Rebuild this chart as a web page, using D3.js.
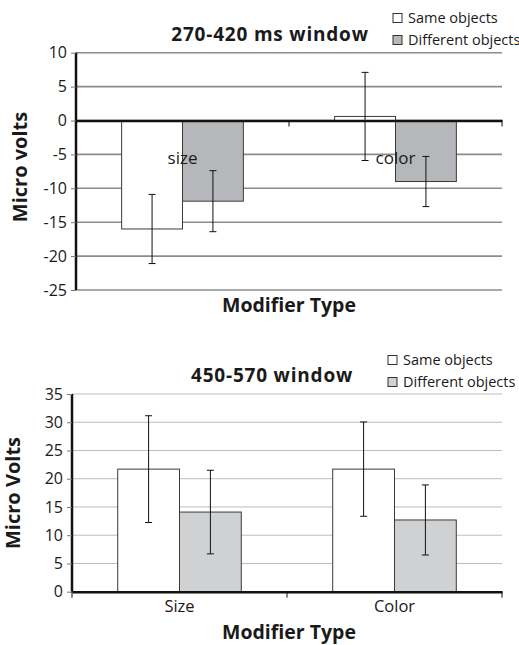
<!DOCTYPE html>
<html>
<head>
<meta charset="utf-8">
<script src="https://cdn.jsdelivr.net/npm/d3@7"></script>
<style>
  body { margin: 0; background: #fff; }
  text { font-family: "Open Sans", sans-serif; fill: #1a1a1a; }
</style>
</head>
<body>
<div id="chart"></div>
<script>
// top panel: 270-420 ms window
var categoriesTop = ["size", "color"];
var sameTop = [-16.0, 0.6];
var diffTop = [-11.9, -9.0];
var sameTopErr = [5.1, 6.5];
var diffTopErr = [4.5, 3.7];
var ticksTop = [10, 5, 0, -5, -10, -15, -20, -25];

// bottom panel: 450-570 window
var categoriesBottom = ["Size", "Color"];
var sameBottom = [21.7, 21.7];
var diffBottom = [14.1, 12.7];
var sameBottomErr = [9.45, 8.35];
var diffBottomErr = [7.4, 6.2];
var ticksBottom = [0, 5, 10, 15, 20, 25, 30, 35];

var seriesNames = ["Same objects", "Different objects"];

var svg = d3.select("#chart").append("svg")
    .attr("width", 519)
    .attr("height", 645);

function drawPanel(cfg) {
  var g = svg.append("g");
  var x = d3.scaleBand().domain(cfg.categories).range([cfg.left, cfg.right]);
  var xs = d3.scaleBand().domain([0, 1]).range([0, x.bandwidth()]).paddingOuter(cfg.outer);
  var y = d3.scaleLinear().domain(cfg.domain).range([cfg.bottom, cfg.top]);

  // gridlines
  g.append("g").selectAll("line")
    .data(cfg.ticks)
    .enter().append("line")
      .attr("x1", cfg.left).attr("x2", cfg.right)
      .attr("y1", function(d) { return y(d); })
      .attr("y2", function(d) { return y(d); })
      .attr("stroke", cfg.gridColor)
      .attr("stroke-width", cfg.gridWidth);

  // bars
  var rows = [];
  cfg.categories.forEach(function(c, i) {
    rows.push({cat: c, s: 0, v: cfg.same[i], e: cfg.sameErr[i]});
    rows.push({cat: c, s: 1, v: cfg.diff[i], e: cfg.diffErr[i]});
  });
  g.append("g").selectAll("rect")
    .data(rows)
    .enter().append("rect")
      .attr("x", function(d) { return x(d.cat) + xs(d.s); })
      .attr("y", function(d) { return y(Math.max(0, d.v)); })
      .attr("width", xs.bandwidth())
      .attr("height", function(d) { return Math.abs(y(d.v) - y(0)); })
      .attr("fill", function(d) { return d.s === 0 ? "#ffffff" : cfg.diffColor; })
      .attr("stroke", "#3a3a3a")
      .attr("stroke-width", 1);

  // y axis
  var yAxis = g.append("g")
      .attr("transform", "translate(" + cfg.left + ",0)")
      .call(d3.axisLeft(y).tickValues(cfg.ticks).tickSize(5).tickPadding(4)
        .tickFormat(function(d) { return String(d); }));
  yAxis.select(".domain").attr("stroke", "#111").attr("stroke-width", 2.5)
    .attr("d", "M0," + y(cfg.domain[0]) + "V" + y(cfg.domain[1]));
  yAxis.selectAll(".tick line").attr("stroke", "#777");
  yAxis.selectAll(".tick text")
    .attr("font-size", 16)
    .attr("fill", "#222")
    .style("font-family", "'Open Sans', sans-serif");

  // x axis at zero
  var xAxis = g.append("g")
      .attr("transform", "translate(0," + y(0) + ")")
      .call(d3.axisBottom(x).tickSize(0).tickFormat(cfg.showXLabels ? null : ""));
  xAxis.select(".domain").attr("stroke", "#111").attr("stroke-width", 2.5);
  xAxis.selectAll(".tick text")
    .attr("font-size", 16.5)
    .attr("dy", "1.05em")
    .attr("fill", "#222")
    .style("font-family", "'Open Sans', sans-serif");
  // category separator ticks
  var seps = [cfg.left].concat(cfg.categories.map(function(c) { return x(c) + x.bandwidth(); }));
  xAxis.selectAll(".sep")
    .data(seps)
    .enter().append("line")
      .attr("x1", function(d) { return d; }).attr("x2", function(d) { return d; })
      .attr("y1", 0).attr("y2", 6)
      .attr("stroke", "#111").attr("stroke-width", 1);

  // error bars
  var eb = g.append("g").selectAll("g")
    .data(rows)
    .enter().append("g")
      .attr("transform", function(d) { return "translate(" + (x(d.cat) + xs(d.s) + xs.bandwidth() / 2) + ",0)"; });
  eb.append("line")
    .attr("y1", function(d) { return y(d.v + d.e); })
    .attr("y2", function(d) { return y(d.v - d.e); })
    .attr("stroke", "#111");
  eb.append("line")
    .attr("x1", -3.5).attr("x2", 3.5)
    .attr("y1", function(d) { return y(d.v + d.e); })
    .attr("y2", function(d) { return y(d.v + d.e); })
    .attr("stroke", "#111");
  eb.append("line")
    .attr("x1", -3.5).attr("x2", 3.5)
    .attr("y1", function(d) { return y(d.v - d.e); })
    .attr("y2", function(d) { return y(d.v - d.e); })
    .attr("stroke", "#111");

  // data labels inside plot (top panel only)
  if (cfg.innerLabelY !== null) {
    g.append("g").selectAll("text")
      .data(cfg.categories)
      .enter().append("text")
        .attr("x", function(d) { return x(d) + x.bandwidth() / 2; })
        .attr("y", y(cfg.innerLabelY))
        .attr("text-anchor", "middle")
        .attr("font-size", 17)
        .text(function(d) { return d; });
  }

  // title
  g.append("text")
    .attr("x", cfg.titleX).attr("y", cfg.titleY)
    .attr("text-anchor", "middle")
    .attr("font-size", 19)
    .attr("font-weight", "bold")
    .style("letter-spacing", "0.8px")
    .text(cfg.title);

  // y label
  g.append("text")
    .attr("transform", "translate(" + cfg.yLabelX + "," + cfg.yLabelY + ") rotate(-90)")
    .attr("text-anchor", "middle")
    .attr("font-size", 20)
    .attr("font-weight", "bold")
    .text(cfg.yLabel);

  // x label
  g.append("text")
    .attr("x", 289).attr("y", cfg.xLabelY)
    .attr("text-anchor", "middle")
    .attr("font-size", 19.5)
    .attr("font-weight", "bold")
    .text("Modifier Type");

  // legend
  var lg = g.append("g").selectAll("g")
    .data(seriesNames)
    .enter().append("g")
      .attr("transform", function(d, i) { return "translate(" + cfg.legendX + "," + (cfg.legendY + i * 22) + ")"; });
  lg.append("rect")
    .attr("x", 0).attr("y", -4.5)
    .attr("width", 9).attr("height", 9)
    .attr("fill", function(d, i) { return i === 0 ? "#ffffff" : cfg.diffColor; })
    .attr("stroke", "#333");
  lg.append("text")
    .attr("x", 15).attr("y", 5)
    .attr("font-size", 14.5)
    .text(function(d) { return d; });
}

drawPanel({
  categories: categoriesTop, same: sameTop, diff: diffTop,
  sameErr: sameTopErr, diffErr: diffTopErr, ticks: ticksTop,
  domain: [-25, 10], left: 76, right: 502, top: 52.7, bottom: 290,
  outer: 0.75, gridColor: "#8c8c8c", gridWidth: 1.6, diffColor: "#b6b7ba",
  showXLabels: false, innerLabelY: -6.4,
  title: "270-420 ms window", titleX: 270, titleY: 40.5,
  yLabel: "Micro volts", yLabelX: 27, yLabelY: 167, xLabelY: 312,
  legendX: 393, legendY: 18
});

drawPanel({
  categories: categoriesBottom, same: sameBottom, diff: diffBottom,
  sameErr: sameBottomErr, diffErr: diffBottomErr, ticks: ticksBottom,
  domain: [0, 35], left: 72, right: 502, top: 394, bottom: 591.7,
  outer: 0.74, gridColor: "#bdbdbd", gridWidth: 1, diffColor: "#d0d1d3",
  showXLabels: true, innerLabelY: null,
  title: "450-570 window", titleX: 272, titleY: 382,
  yLabel: "Micro Volts", yLabelX: 20, yLabelY: 493, xLabelY: 639,
  legendX: 388, legendY: 360
});
</script>
</body>
</html>
